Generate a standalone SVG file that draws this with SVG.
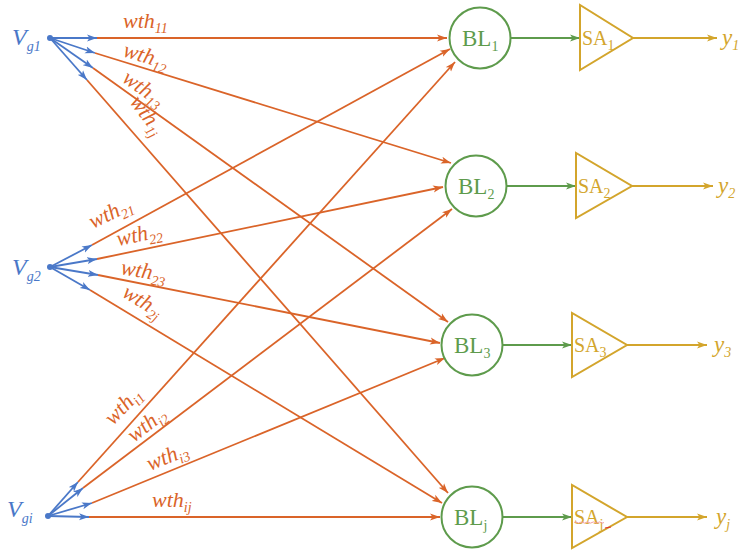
<svg xmlns="http://www.w3.org/2000/svg" width="748" height="552" viewBox="0 0 748 552">
  <defs>
    <style>
      .blue { stroke: #4a78c8; stroke-width: 1.8; fill: none; }
      .org { stroke: #da6429; stroke-width: 1.8; fill: none; }
      .grn { stroke: #5e9b4c; stroke-width: 1.8; fill: none; }
      .gold { stroke: #d3a52c; stroke-width: 1.8; fill: none; }
      .bl { stroke: #5e9b4c; stroke-width: 2; fill: #ffffff; }
      .sa { stroke: #d3a52c; stroke-width: 2; fill: #ffffff; stroke-linejoin: miter; }
      .dot { fill: #4a78c8; }
      text { font-family: "Liberation Serif", "Times New Roman", serif; }
      .vg { fill: #4a78c8; font-style: italic; font-size: 24px; }
      .w { fill: #da6429; font-style: italic; font-size: 22px; }
      .blt { fill: #5e9b4c; font-size: 23px; }
      .sat { fill: #d3a52c; font-size: 20px; }
      .yt { fill: #d3a52c; font-style: italic; font-size: 23px; }
      .sub { font-size: 14px; }
    </style>
    <marker id="ahBlue" markerUnits="userSpaceOnUse" markerWidth="11" markerHeight="8" refX="10" refY="4" orient="auto">
      <path d="M0,0.5 L10,4 L0,7.5 L2.5,4 z" fill="#4a78c8"/>
    </marker>
    <marker id="ahOrg" markerUnits="userSpaceOnUse" markerWidth="11" markerHeight="8" refX="10" refY="4" orient="auto">
      <path d="M0,0.5 L10,4 L0,7.5 L2.5,4 z" fill="#da6429"/>
    </marker>
    <marker id="ahGrn" markerUnits="userSpaceOnUse" markerWidth="11" markerHeight="8" refX="10" refY="4" orient="auto">
      <path d="M0,0.5 L10,4 L0,7.5 L2.5,4 z" fill="#5e9b4c"/>
    </marker>
    <marker id="ahGold" markerUnits="userSpaceOnUse" markerWidth="11" markerHeight="8" refX="10" refY="4" orient="auto">
      <path d="M0,0.5 L10,4 L0,7.5 L2.5,4 z" fill="#d3a52c"/>
    </marker>
  </defs>

  <rect width="748" height="552" fill="#ffffff"/>

  <!-- weight connectors from the gate inputs to the bit lines -->
  <g id="connectors">
    <!-- input fan-out arrows -->
    <g class="blue">
      <line x1="50" y1="38" x2="97" y2="38" marker-end="url(#ahBlue)"/>
      <line x1="50" y1="38" x2="95" y2="53" marker-end="url(#ahBlue)"/>
      <line x1="50" y1="38" x2="93" y2="68" marker-end="url(#ahBlue)"/>
      <line x1="50" y1="38" x2="87" y2="80" marker-end="url(#ahBlue)"/>
      <line x1="50" y1="267" x2="92" y2="245" marker-end="url(#ahBlue)"/>
      <line x1="50" y1="267" x2="97" y2="259" marker-end="url(#ahBlue)"/>
      <line x1="50" y1="267" x2="98" y2="275" marker-end="url(#ahBlue)"/>
      <line x1="50" y1="267" x2="90" y2="290" marker-end="url(#ahBlue)"/>
      <line x1="48" y1="516" x2="78" y2="482" marker-end="url(#ahBlue)"/>
      <line x1="48" y1="516" x2="83" y2="488" marker-end="url(#ahBlue)"/>
      <line x1="48" y1="516" x2="92" y2="503" marker-end="url(#ahBlue)"/>
      <line x1="48" y1="516" x2="89" y2="517" marker-end="url(#ahBlue)"/>
    </g>
    <!-- weighted paths -->
    <g class="org">
      <line x1="97" y1="38" x2="447" y2="38" marker-end="url(#ahOrg)"/>
      <line x1="95" y1="53" x2="451" y2="163" marker-end="url(#ahOrg)"/>
      <line x1="93" y1="68" x2="448" y2="322" marker-end="url(#ahOrg)"/>
      <line x1="87" y1="80" x2="448" y2="493" marker-end="url(#ahOrg)"/>
      <line x1="92" y1="245" x2="450" y2="49" marker-end="url(#ahOrg)"/>
      <line x1="97" y1="259" x2="443" y2="187" marker-end="url(#ahOrg)"/>
      <line x1="98" y1="275" x2="440" y2="343" marker-end="url(#ahOrg)"/>
      <line x1="90" y1="290" x2="442" y2="503" marker-end="url(#ahOrg)"/>
      <line x1="78" y1="482" x2="455" y2="62" marker-end="url(#ahOrg)"/>
      <line x1="83" y1="488" x2="452" y2="209" marker-end="url(#ahOrg)"/>
      <line x1="92" y1="503" x2="445" y2="358" marker-end="url(#ahOrg)"/>
      <line x1="89" y1="517" x2="440" y2="517" marker-end="url(#ahOrg)"/>
    </g>
    <!-- bit line to sense amplifier -->
    <g class="grn">
      <line x1="511" y1="38" x2="580" y2="38" marker-end="url(#ahGrn)"/>
      <line x1="507" y1="186" x2="576" y2="186" marker-end="url(#ahGrn)"/>
      <line x1="503" y1="345" x2="572" y2="345" marker-end="url(#ahGrn)"/>
      <line x1="503" y1="517" x2="572" y2="517" marker-end="url(#ahGrn)"/>
    </g>
    <!-- sense amplifier outputs -->
    <g class="gold">
      <line x1="633" y1="38" x2="717" y2="38" marker-end="url(#ahGold)"/>
      <line x1="632" y1="186" x2="713" y2="186" marker-end="url(#ahGold)"/>
      <line x1="627" y1="345" x2="707" y2="345" marker-end="url(#ahGold)"/>
      <line x1="627" y1="517" x2="707" y2="517" marker-end="url(#ahGold)"/>
    </g>
  </g>

  <!-- weight labels -->
  <g id="weight-labels">
    <text class="w" x="123" y="28">wth<tspan class="sub" dy="5">11</tspan></text>
    <text class="w" transform="translate(122,56) rotate(17)">wth<tspan class="sub" dy="5">12</tspan></text>
    <text class="w" transform="translate(121,81) rotate(35)">wth<tspan class="sub" dy="5">13</tspan></text>
    <text class="w" transform="translate(129,102) rotate(53)">wth<tspan class="sub" dy="5">1j</tspan></text>
    <text class="w" transform="translate(93,229) rotate(-26)">wth<tspan class="sub" dy="5">21</tspan></text>
    <text class="w" transform="translate(118,246) rotate(-11.5)">wth<tspan class="sub" dy="5">22</tspan></text>
    <text class="w" transform="translate(120,274) rotate(10)">wth<tspan class="sub" dy="5">23</tspan></text>
    <text class="w" transform="translate(121,296) rotate(31)">wth<tspan class="sub" dy="5">2j</tspan></text>
    <text class="w" transform="translate(113,426) rotate(-46)">wth<tspan class="sub" dy="5">i1</tspan></text>
    <text class="w" transform="translate(134,443) rotate(-38)">wth<tspan class="sub" dy="5">i2</tspan></text>
    <text class="w" transform="translate(150,471) rotate(-22)">wth<tspan class="sub" dy="5">i3</tspan></text>
    <text class="w" x="152" y="507">wth<tspan class="sub" dy="5">ij</tspan></text>
  </g>

  <!-- gate inputs -->
  <g id="Vg1">
    <circle class="dot" cx="50" cy="38" r="3"/>
    <text class="vg" x="12" y="45">V<tspan class="sub" dy="6" font-size="15">g1</tspan></text>
  </g>
  <g id="Vg2">
    <circle class="dot" cx="50" cy="267" r="3"/>
    <text class="vg" x="12" y="275">V<tspan class="sub" dy="6" font-size="15">g2</tspan></text>
  </g>
  <g id="Vgi">
    <circle class="dot" cx="48" cy="516" r="3"/>
    <text class="vg" x="7" y="517">V<tspan class="sub" dy="6" font-size="15">gi</tspan></text>
  </g>

  <!-- bit lines -->
  <g id="BL1">
    <circle class="bl" cx="480" cy="38" r="30.5"/>
    <text class="blt" x="462" y="46">BL<tspan class="sub" dy="5">1</tspan></text>
  </g>
  <g id="BL2">
    <circle class="bl" cx="476" cy="186" r="30.5"/>
    <text class="blt" x="458" y="194">BL<tspan class="sub" dy="5">2</tspan></text>
  </g>
  <g id="BL3">
    <circle class="bl" cx="472" cy="345" r="30.5"/>
    <text class="blt" x="454" y="353">BL<tspan class="sub" dy="5">3</tspan></text>
  </g>
  <g id="BLj">
    <circle class="bl" cx="472" cy="517" r="30.5"/>
    <text class="blt" x="454" y="525">BL<tspan class="sub" dy="5">j</tspan></text>
  </g>

  <!-- sense amplifiers -->
  <g id="SA1">
    <polygon class="sa" points="580,5 580,70 633,38"/>
    <text class="sat" x="582" y="45">SA<tspan class="sub" dy="5">1</tspan></text>
  </g>
  <g id="SA2">
    <polygon class="sa" points="576,153 576,218 632,186"/>
    <text class="sat" x="578" y="193">SA<tspan class="sub" dy="5">2</tspan></text>
  </g>
  <g id="SA3">
    <polygon class="sa" points="572,313 572,377 627,345"/>
    <text class="sat" x="574" y="352">SA<tspan class="sub" dy="5">3</tspan></text>
  </g>
  <g id="SAj">
    <polygon class="sa" points="572,485 572,548 627,517"/>
    <text class="sat" x="574" y="524">SA<tspan class="sub" dy="5">j</tspan></text>
    <!-- spell-check squiggle under the label -->
    <path d="M574,522.5 q1.5,-1.2 3,0 t3,0 t3,0 t3,0 t3,0 t3,0 t3,0 t3,0 t3,0 t3,0" fill="none" stroke="#f4a0a0" stroke-width="1"/>
    <line x1="605" y1="528" x2="611" y2="527" stroke="#e03030" stroke-width="1.2"/>
  </g>

  <!-- outputs -->
  <g id="outputs">
    <text class="yt" x="722" y="45">y<tspan class="sub" dy="5">1</tspan></text>
    <text class="yt" x="718" y="193">y<tspan class="sub" dy="5">2</tspan></text>
    <text class="yt" x="714" y="352">y<tspan class="sub" dy="5">3</tspan></text>
    <text class="yt" x="716" y="524">y<tspan class="sub" dy="5">j</tspan></text>
  </g>
</svg>
